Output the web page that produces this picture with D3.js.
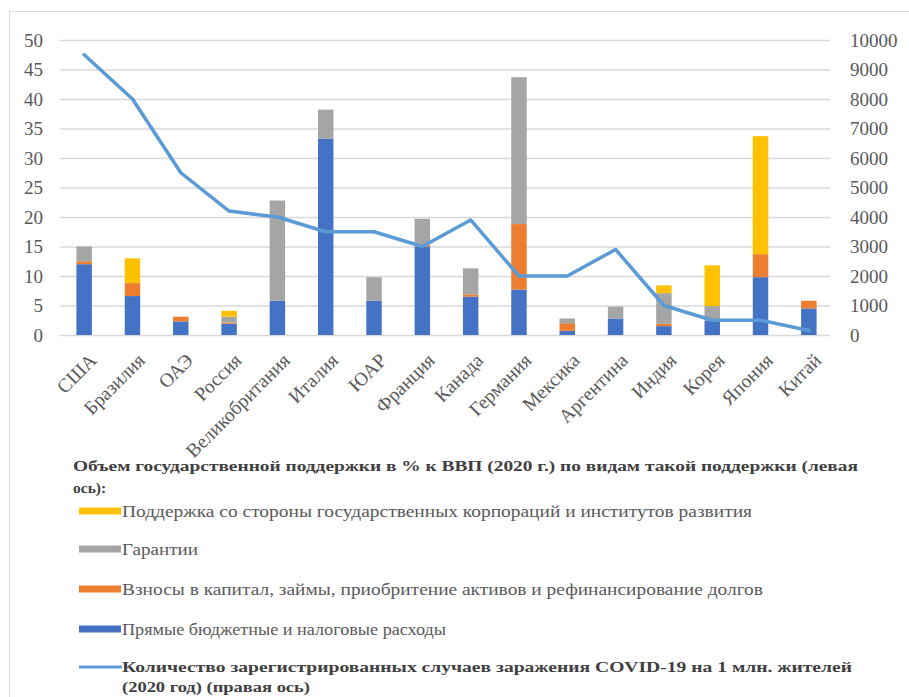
<!DOCTYPE html>
<html><head><meta charset="utf-8">
<script src="https://cdn.jsdelivr.net/npm/d3@7"></script>
<style>body{margin:0;background:#fff}svg{display:block}svg text{font-family:"Liberation Serif","Times New Roman","DejaVu Serif",serif !important}</style>
</head><body><svg id="c" width="909" height="697"></svg>
<script>
const categories = ["США","Бразилия","ОАЭ","Россия","Великобритания","Италия","ЮАР","Франция","Канада","Германия","Мексика","Аргентина","Индия","Корея","Япония","Китай"];
const direct     = [12, 6.6, 2.3, 1.9, 5.8, 33.3, 5.8, 15, 6.5, 7.7, 0.7, 2.8, 1.5, 2.4, 9.8, 4.5];
const capital    = [0.5, 2.2, 0.8, 0.2, 0, 0, 0, 0.4, 0.4, 11.1, 1.3, 0, 0.4, 0, 3.9, 1.3];
const guarantees = [2.5, 0, 0, 1.0, 17, 4.9, 4, 4.3, 4.4, 24.9, 0.8, 2, 5.2, 2.5, 0, 0];
const corporate  = [0, 4.2, 0, 1.0, 0, 0, 0, 0, 0, 0, 0, 0, 1.3, 6.9, 20, 0];
const covidCases = [9500, 8000, 5500, 4200, 4000, 3500, 3500, 3000, 3900, 2000, 2000, 2900, 1000, 500, 500, 150];
const leftTicks = [0,5,10,15,20,25,30,35,40,45,50];
const rightTicks = [0,1000,2000,3000,4000,5000,6000,7000,8000,9000,10000];
const legendTitle = ["Объем государственной поддержки в % к ВВП (2020 г.) по видам такой поддержки (левая", "ось):"];
const seriesNames = ["Поддержка со стороны государственных корпораций и институтов развития","Гарантии","Взносы в капитал, займы, приобритение активов и рефинансирование долгов","Прямые бюджетные и налоговые расходы"];
const lineName = ["Количество зарегистрированных случаев заражения COVID-19 на 1 млн. жителей","(2020 год) (правая ось)"];

const FONT = '"Liberation Serif","Times New Roman","DejaVu Serif",serif';
const svg = d3.select("#c").style("font-family",FONT);
const colors = {direct:"#4472C4", capital:"#ED7D31", guarantees:"#A5A5A5", corporate:"#FFC000", line:"#5B9BD5"};

// frame
svg.append("rect").attr("x",9.5).attr("y",11.5).attr("width",920).attr("height",700)
  .attr("fill","none").attr("stroke","#D9D9D9");

const x = d3.scaleBand().domain(categories).range([60,833]).paddingInner(0.68).paddingOuter(0.34);
const yL = d3.scaleLinear().domain([0,50]).range([335,40]);
const yR = d3.scaleLinear().domain([0,10000]).range([335,40]);

// gridlines
svg.append("g").selectAll("line").data(leftTicks).join("line")
  .attr("x1",60).attr("x2",830).attr("y1",d=>yL(d)+0.5).attr("y2",d=>yL(d)+0.5)
  .attr("stroke","#D9D9D9").attr("stroke-width",1.3);

// left axis
const axL = svg.append("g").attr("transform","translate(49,0)")
  .call(d3.axisLeft(yL).tickValues(leftTicks).tickSize(0).tickPadding(6));
axL.attr("font-family",FONT);
axL.select(".domain").remove();
axL.selectAll("text").attr("fill","#595959").attr("font-size",19).style("font-family",FONT);

// right axis
const axR = svg.append("g").attr("transform","translate(844,0)")
  .call(d3.axisRight(yR).tickValues(rightTicks).tickFormat(d3.format("d")).tickSize(0).tickPadding(6));
axR.attr("font-family",FONT);
axR.select(".domain").remove();
axR.selectAll("text").attr("fill","#595959").attr("font-size",19).style("font-family",FONT);

// stacked bars
const rows = categories.map((c,i)=>({cat:c, direct:direct[i], capital:capital[i], guarantees:guarantees[i], corporate:corporate[i]}));
const keys = ["direct","capital","guarantees","corporate"];
const stack = d3.stack().keys(keys)(rows);
svg.append("g").selectAll("g").data(stack).join("g").attr("fill",d=>colors[d.key])
  .selectAll("rect").data(d=>d).join("rect")
  .attr("x",d=>x(d.data.cat)).attr("width",x.bandwidth())
  .attr("y",d=>yL(d[1])).attr("height",d=>Math.max(0,yL(d[0])-yL(d[1])));

// line
const line = d3.line().x((d,i)=>x(categories[i])+x.bandwidth()/2).y(d=>yR(d));
svg.append("path").datum(covidCases).attr("d",line).attr("fill","none")
  .attr("stroke",colors.line).attr("stroke-width",3.5).attr("stroke-linejoin","round").attr("stroke-linecap","round");

// x labels
svg.append("g").selectAll("text").data(categories).join("text")
  .attr("transform",d=>`translate(${x(d)+x.bandwidth()/2+4},${352}) rotate(-45)`)
  .attr("text-anchor","end").attr("dominant-baseline","hanging")
  .attr("font-size",19.5).attr("fill","#595959").text(d=>d);

// legend
const lg = svg.append("g");
lg.append("text").attr("x",73).attr("y",471).attr("font-weight","bold").attr("font-size",15.5).attr("fill","#404040")
  .attr("textLength",785).attr("lengthAdjust","spacingAndGlyphs").text(legendTitle[0]);
lg.append("text").attr("x",73).attr("y",493).attr("font-weight","bold").attr("font-size",15.5).attr("fill","#404040").text(legendTitle[1]);

const items = [
  {name:seriesNames[0], color:colors.corporate, y:511, w:630},
  {name:seriesNames[1], color:colors.guarantees, y:549, w:76},
  {name:seriesNames[2], color:colors.capital, y:589, w:641},
  {name:seriesNames[3], color:colors.direct, y:629, w:324}
];
items.forEach(it=>{
  lg.append("rect").attr("x",79).attr("y",it.y-3.5).attr("width",42).attr("height",7).attr("fill",it.color);
  lg.append("text").attr("x",122).attr("y",it.y+5.5).attr("font-size",17.5).attr("fill","#595959")
    .attr("textLength",it.w).attr("lengthAdjust","spacingAndGlyphs").text(it.name);
});
lg.append("line").attr("x1",79).attr("x2",122).attr("y1",667).attr("y2",667).attr("stroke",colors.line).attr("stroke-width",3);
lg.append("text").attr("x",122).attr("y",672).attr("font-weight","bold").attr("font-size",15.5).attr("fill","#404040")
  .attr("textLength",730).attr("lengthAdjust","spacingAndGlyphs").text(lineName[0]);
lg.append("text").attr("x",122).attr("y",692).attr("font-weight","bold").attr("font-size",15.5).attr("fill","#404040")
  .attr("textLength",188).attr("lengthAdjust","spacingAndGlyphs").text(lineName[1]);
</script></body></html>
